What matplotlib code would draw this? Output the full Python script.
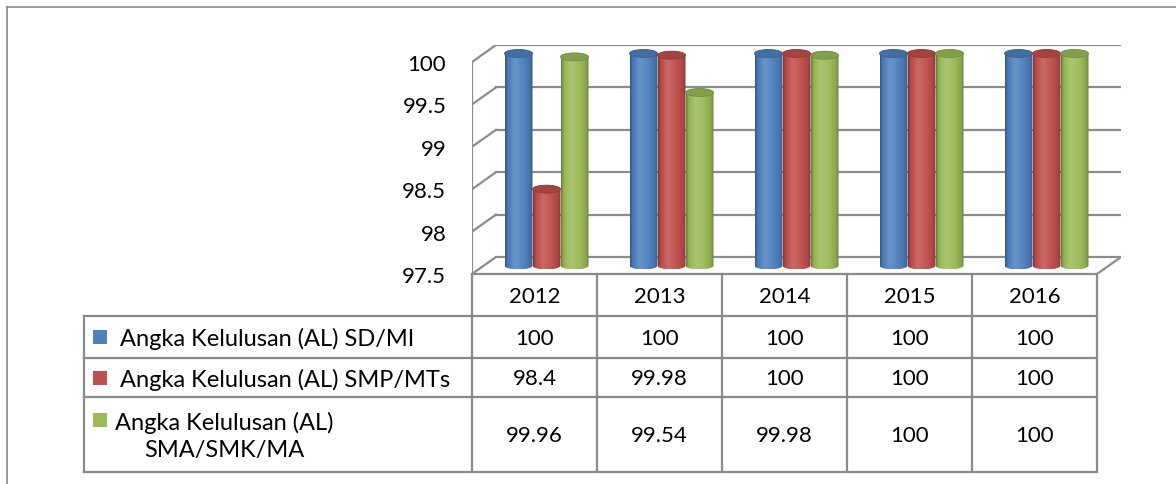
import matplotlib.pyplot as plt
import numpy as np
from matplotlib.patches import Ellipse, Polygon
from matplotlib.lines import Line2D
from matplotlib.colors import to_rgb

years = ["2012", "2013", "2014", "2015", "2016"]
series_names = ["Angka Kelulusan (AL) SD/MI",
                "Angka Kelulusan (AL) SMP/MTs",
                "Angka Kelulusan (AL)\nSMA/SMK/MA"]
sd_mi = [100, 100, 100, 100, 100]
smp_mts = [98.4, 99.98, 100, 100, 100]
sma_smk_ma = [99.96, 99.54, 99.98, 100, 100]
series_colors = ["#4F81BD", "#C0504D", "#9BBB59"]
y_ticks = [97.5, 98, 98.5, 99, 99.5, 100]

series = [sd_mi, smp_mts, sma_smk_ma]
ymin, ymax = y_ticks[0], y_ticks[-1]

plt.rcParams['font.family'] = ['Lato', 'DejaVu Sans']
W, H = 1176, 485
fig = plt.figure(figsize=(W / 100, H / 100), dpi=100)

# layout in pixels (from top-left)
X0 = 472          # front-left edge of plot
CW = 125          # pixels per category
YB, YT = 275, 63  # front floor / front 100 line
PU = (YB - YT) / (ymax - ymin)
DX = 24 / CW      # depth offset in data units
DY = 17 / PU
BW = 28 / CW      # cylinder width
EH = 8 / PU       # ellipse height
grid_c = "#8C8C8C"


def fx(px):
    return px / W


def fy(py):
    return 1 - py / H


ax = fig.add_axes([fx(X0), fy(YB), (5 + DX) * CW / W, (YB - YT + 17) / H])
ax.set_xlim(-0.5, 4.5 + DX)
ax.set_ylim(ymin, ymax + DY)
for s in ax.spines.values():
    s.set_visible(False)
ax.patch.set_visible(False)
ax.set_xticks([])
ax.set_yticks(y_ticks)
ax.set_yticklabels([f"{v:g}" for v in y_ticks], fontsize=16)
ax.tick_params(axis='y', length=0, pad=18.5)

# back wall gridlines and left wall
n = len(years)
for v in y_ticks:
    ax.plot([-0.5 + DX, n - 0.5 + DX], [v + DY, v + DY], color=grid_c, lw=1.6, zorder=1)
    ax.plot([-0.5, -0.5 + DX], [v, v + DY], color=grid_c, lw=1.6, zorder=1)
ax.plot([-0.5, -0.5], [ymin, ymax], color=grid_c, lw=1.6, zorder=1)
# floor
ax.plot([n - 0.5, n - 0.5 + DX], [ymin, ymin + DY], color=grid_c, lw=1.6, zorder=1)


def shade(color, npts=64):
    base = np.array(to_rgb(color))
    t = np.linspace(0, 1, npts)
    k = np.interp(t, [0, 0.08, 0.35, 0.65, 0.9, 1], [-0.35, -0.08, 0.15, 0.03, -0.12, -0.3])
    rows = []
    for kk in k:
        if kk >= 0:
            rows.append(base + (1 - base) * kk)
        else:
            rows.append(base * (1 + kk))
    return np.array(rows)[None, :, :]


for j, vals in enumerate(series):
    col = series_colors[j]
    grad = shade(col)
    for i, v in enumerate(vals):
        cx = i + (j - 1) * BW + DX / 2
        yb = ymin + DY / 2
        yt = v + DY / 2
        x0, x1 = cx - BW / 2, cx + BW / 2
        im = ax.imshow(grad, extent=(x0, x1, yb - EH / 2, yt + EH / 2), aspect='auto',
                       origin='lower', interpolation='bilinear', zorder=3 + j * 0.01)
        th_b = np.linspace(np.pi, 2 * np.pi, 40)
        th_t = np.linspace(0, np.pi, 40)
        pts = np.vstack([
            np.column_stack([cx + BW / 2 * np.cos(th_b), yb + EH / 2 * np.sin(th_b)]),
            np.column_stack([cx + BW / 2 * np.cos(th_t), yt + EH / 2 * np.sin(th_t)]),
        ])
        clip = Polygon(pts, closed=True, transform=ax.transData, facecolor='none', edgecolor='none')
        ax.add_patch(clip)
        im.set_clip_path(clip)
        base = np.array(to_rgb(col))
        ax.add_patch(Ellipse((cx, yt), BW, EH, facecolor=base * 0.85,
                             edgecolor=base * 0.75, lw=0.6, zorder=3.5 + j * 0.01))

# data table
LW = (X0 - 84) / CW
row_edges = [0, 41.5, 84, 123, 198]
tab = fig.add_axes([fx(84), fy(YB + row_edges[-1]), (X0 + n * CW - 84) / W, row_edges[-1] / H])
tab.set_xlim(-0.5 - LW, n - 0.5)
tab.set_ylim(row_edges[-1], 0)
tab.axis('off')
tc = "#8A8A8A"
tab.plot([-0.5, n - 0.5], [0, 0], color=tc, lw=1.6, clip_on=False)
for e in row_edges[1:]:
    tab.plot([-0.5 - LW, n - 0.5], [e, e], color=tc, lw=1.6, clip_on=False)
for i in range(n + 1):
    tab.plot([i - 0.5, i - 0.5], [0, row_edges[-1]], color=tc, lw=1.6, clip_on=False)
tab.plot([-0.5 - LW, -0.5 - LW], [row_edges[1], row_edges[-1]], color=tc, lw=1.6, clip_on=False)

for i, yr in enumerate(years):
    tab.text(i, (row_edges[0] + row_edges[1]) / 2 + 1, yr, ha='center', va='center', fontsize=16)

key_x = -0.5 - LW + 16 / CW
for j, vals in enumerate(series):
    yc = (row_edges[j + 1] + row_edges[j + 2]) / 2
    for i, v in enumerate(vals):
        tab.text(i, yc + 1, f"{v:g}", ha='center', va='center', fontsize=16)
    if j < 2:
        tab.plot(key_x, yc, marker='s', ms=10, mfc=series_colors[j], mew=0, ls='none')
        tab.text(-0.5 - LW + 36 / CW, yc + 1, series_names[j], ha='left', va='center', fontsize=17)
    else:
        tab.plot(key_x, yc - 15, marker='s', ms=10, mfc=series_colors[j], mew=0, ls='none')
        tab.text(-0.5 - LW + 31 / CW, yc + 1, series_names[j], ha='left', va='center',
                 fontsize=17, multialignment='center', linespacing=1.35)

# outer chart frame
fc = "#8A8A8A"
fig.add_artist(Line2D([fx(7), fx(7)], [fy(8), 0], transform=fig.transFigure, color=fc, lw=1.2))
fig.add_artist(Line2D([fx(7), 1], [fy(8), fy(8)], transform=fig.transFigure, color=fc, lw=1.2))

fig.savefig("out.png", dpi=100)
